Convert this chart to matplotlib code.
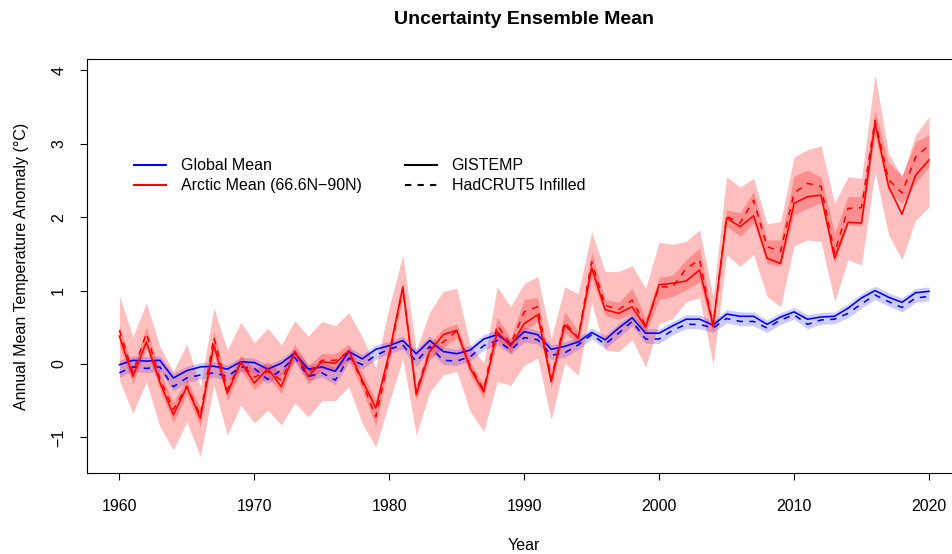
import numpy as np
import matplotlib
matplotlib.use('Agg')
import matplotlib.pyplot as plt
from matplotlib.lines import Line2D

plt.rcParams['font.family'] = ['Liberation Sans', 'DejaVu Sans']

years = np.arange(1960, 2021)

# Arctic mean (66.6N-90N)
arctic_gis = [0.38, -0.17, 0.30, -0.25, -0.69, -0.31, -0.74, 0.26, -0.40, 0.03,
              -0.26, -0.06, -0.31, 0.17, -0.17, 0.03, 0.01, 0.18, -0.22, -0.60,
              0.15, 1.05, -0.42, 0.17, 0.40, 0.46, -0.06, -0.38, 0.44, 0.24,
              0.55, 0.67, -0.24, 0.53, 0.35, 1.31, 0.74, 0.69, 0.78, 0.50,
              1.08, 1.10, 1.13, 1.28, 0.53, 1.99, 1.87, 2.02, 1.44, 1.37,
              2.19, 2.28, 2.30, 1.44, 1.93, 1.92, 3.28, 2.42, 2.04, 2.57,
              2.78]
arctic_had = [0.46, -0.12, 0.42, -0.20, -0.62, -0.30, -0.70, 0.36, -0.35, 0.02,
              -0.18, -0.10, -0.22, 0.16, -0.12, 0.05, 0.05, 0.17, -0.25, -0.72,
              0.10, 1.02, -0.38, 0.20, 0.30, 0.45, -0.03, -0.35, 0.53, 0.27,
              0.71, 0.78, -0.20, 0.57, 0.36, 1.39, 0.80, 0.74, 0.87, 0.52,
              1.05, 1.05, 1.30, 1.42, 0.51, 2.01, 1.92, 2.23, 1.60, 1.53,
              2.33, 2.46, 2.42, 1.51, 2.12, 2.13, 3.32, 2.51, 2.33, 2.82,
              2.98]
arctic_outer_hi = [0.93, 0.37, 0.83, 0.24, -0.10, 0.27, -0.31, 0.76, 0.19, 0.57,
                   0.29, 0.49, 0.26, 0.59, 0.38, 0.58, 0.52, 0.70, 0.37, -0.05,
                   0.78, 1.48, 0.19, 0.71, 0.99, 1.03, 0.26, 0.01, 1.05, 0.78,
                   1.10, 1.19, 0.35, 1.05, 0.96, 1.80, 1.26, 1.26, 1.34, 1.03,
                   1.66, 1.63, 1.67, 1.83, 0.92, 2.55, 2.41, 2.53, 1.91, 1.94,
                   2.82, 2.92, 2.97, 2.19, 2.55, 2.53, 3.94, 2.87, 2.55, 3.12,
                   3.37]
arctic_outer_lo = [-0.22, -0.67, -0.24, -0.85, -1.17, -0.79, -1.26, -0.29, -0.97, -0.56,
                   -0.80, -0.63, -0.83, -0.53, -0.72, -0.50, -0.50, -0.31, -0.81, -1.13,
                   -0.52, 0.08, -0.97, -0.38, -0.15, -0.10, -0.65, -0.92, -0.24, -0.29,
                   -0.02, 0.08, -0.76, 0.01, -0.15, 0.83, 0.19, 0.17, 0.33, -0.04,
                   0.55, 0.62, 0.85, 0.90, -0.01, 1.49, 1.33, 1.49, 0.92, 0.78,
                   1.61, 1.69, 1.67, 0.85, 1.42, 1.35, 2.62, 1.76, 1.42, 1.96,
                   2.14]
arctic_inner_hi = [0.52, -0.05, 0.50, -0.10, -0.52, -0.20, -0.60, 0.45, -0.25, 0.12,
                   -0.08, 0.03, -0.12, 0.27, -0.02, 0.14, 0.14, 0.27, -0.12, -0.49,
                   0.24, 1.12, -0.30, 0.28, 0.48, 0.55, 0.03, -0.28, 0.64, 0.35,
                   0.88, 0.90, -0.12, 0.71, 0.45, 1.53, 0.88, 0.84, 1.03, 0.63,
                   1.18, 1.21, 1.42, 1.58, 0.62, 2.10, 2.06, 2.35, 1.69, 1.69,
                   2.56, 2.64, 2.55, 1.78, 2.28, 2.28, 3.46, 2.74, 2.57, 3.03,
                   3.12]
arctic_inner_lo = [0.25, -0.27, 0.22, -0.35, -0.80, -0.42, -0.85, 0.15, -0.50, -0.08,
                   -0.35, -0.18, -0.40, 0.06, -0.27, -0.07, -0.10, 0.06, -0.35, -0.85,
                   0.03, 0.94, -0.50, 0.06, 0.22, 0.36, -0.15, -0.47, 0.33, 0.15,
                   0.45, 0.58, -0.33, 0.43, 0.27, 1.17, 0.66, 0.61, 0.69, 0.42,
                   0.88, 0.92, 1.01, 1.12, 0.44, 1.88, 1.74, 1.92, 1.37, 1.33,
                   2.03, 2.12, 2.20, 1.37, 1.90, 1.88, 3.12, 2.35, 2.19, 2.46,
                   2.69]

# Global mean
global_gis = [-0.01, 0.05, 0.04, 0.05, -0.19, -0.09, -0.04, -0.03, -0.07, 0.03,
              0.02, -0.07, 0.01, 0.15, -0.07, -0.04, -0.10, 0.17, 0.07, 0.20,
              0.25, 0.32, 0.14, 0.32, 0.17, 0.14, 0.19, 0.34, 0.40, 0.27,
              0.44, 0.40, 0.20, 0.24, 0.30, 0.43, 0.33, 0.49, 0.63, 0.42,
              0.42, 0.52, 0.61, 0.61, 0.53, 0.68, 0.65, 0.65, 0.54, 0.64,
              0.71, 0.61, 0.64, 0.65, 0.76, 0.90, 1.00, 0.91, 0.84, 0.97,
              0.99]
global_had = [-0.12, -0.04, -0.06, -0.04, -0.31, -0.19, -0.15, -0.12, -0.17, -0.04,
              -0.06, -0.21, -0.08, 0.09, -0.17, -0.12, -0.22, 0.08, -0.01, 0.12,
              0.20, 0.26, 0.03, 0.24, 0.05, 0.04, 0.10, 0.25, 0.32, 0.19,
              0.36, 0.33, 0.12, 0.15, 0.26, 0.40, 0.27, 0.42, 0.58, 0.34,
              0.34, 0.46, 0.54, 0.54, 0.49, 0.62, 0.58, 0.58, 0.49, 0.60,
              0.67, 0.54, 0.60, 0.61, 0.69, 0.82, 0.94, 0.85, 0.77, 0.90,
              0.92]
global_hi = [0.05, 0.11, 0.10, 0.11, -0.13, -0.03, 0.02, 0.03, -0.01, 0.09,
             0.08, -0.01, 0.07, 0.21, -0.01, 0.02, -0.04, 0.23, 0.13, 0.26,
             0.31, 0.38, 0.20, 0.38, 0.23, 0.20, 0.25, 0.40, 0.46, 0.33,
             0.50, 0.46, 0.26, 0.30, 0.36, 0.49, 0.39, 0.55, 0.69, 0.48,
             0.48, 0.58, 0.67, 0.67, 0.59, 0.74, 0.71, 0.71, 0.60, 0.70,
             0.77, 0.67, 0.70, 0.71, 0.82, 0.96, 1.06, 0.97, 0.90, 1.03,
             1.05]
global_lo = [-0.18, -0.10, -0.12, -0.10, -0.37, -0.25, -0.21, -0.18, -0.23, -0.10,
             -0.12, -0.27, -0.14, 0.03, -0.23, -0.18, -0.28, 0.02, -0.07, 0.06,
             0.14, 0.20, -0.03, 0.18, -0.01, -0.02, 0.04, 0.19, 0.26, 0.13,
             0.30, 0.27, 0.06, 0.09, 0.20, 0.34, 0.21, 0.36, 0.52, 0.28,
             0.28, 0.40, 0.48, 0.48, 0.43, 0.56, 0.52, 0.52, 0.43, 0.54,
             0.61, 0.48, 0.54, 0.55, 0.63, 0.76, 0.88, 0.79, 0.71, 0.84,
             0.86]

W, H = 953, 554
fig = plt.figure(figsize=(W / 100, H / 100), dpi=100)
ax = fig.add_axes([87 / W, 1 - 473 / H, (961.4 - 87) / W, (473 - 59) / H])

lw = 1.15
dash = (0, (4, 4))

ax.fill_between(years, global_lo, global_hi, color=(0, 0, 1, 0.2), lw=0)
ax.plot(years, global_gis, color='blue', lw=lw)
ax.plot(years, global_had, color='blue', lw=lw, ls=dash)

ax.fill_between(years, arctic_outer_lo, arctic_outer_hi, color=(1, 0, 0, 0.25), lw=0)
ax.fill_between(years, arctic_inner_lo, arctic_inner_hi, color=(1, 0, 0, 0.25), lw=0)
ax.plot(years, arctic_gis, color='red', lw=lw)
ax.plot(years, arctic_had, color='red', lw=lw, ls=dash)

ax.set_xlim(1957.6, 2022.4)
ax.set_ylim(-1.485, 4.155)
ax.set_xticks([1960, 1970, 1980, 1990, 2000, 2010, 2020])
ax.set_yticks([-1, 0, 1, 2, 3, 4])
ax.tick_params(direction='out', length=5, width=0.8, labelsize=11.5)
ax.tick_params(axis='x', pad=14)
ax.tick_params(axis='y', labelrotation=90, pad=10)
for lab in ax.get_yticklabels():
    lab.set_va('center')
for s in ax.spines.values():
    s.set_linewidth(0.8)

ax.set_title('Uncertainty Ensemble Mean', fontsize=14, fontweight='bold', pad=25)
ax.set_xlabel('Year', fontsize=11.5, labelpad=17)
ax.set_ylabel('Annual Mean Temperature Anomaly (\u00b0C)', fontsize=11.5, labelpad=16)

h1 = [Line2D([], [], color='blue', lw=1.5), Line2D([], [], color='red', lw=1.5)]
leg1 = ax.legend(h1, ['Global Mean', 'Arctic Mean (66.6N\u221290N)'], loc='upper left',
                 bbox_to_anchor=((128 - 87) / (961.4 - 87), (473 - 152) / (473 - 59)),
                 frameon=False, fontsize=11.5, handlelength=2.0, handletextpad=0.9,
                 labelspacing=0.3, borderaxespad=0)
ax.add_artist(leg1)
h2 = [Line2D([], [], color='black', lw=1.5), Line2D([], [], color='black', lw=1.5, ls=(0, (3, 3)))]
ax.legend(h2, ['GISTEMP', 'HadCRUT5 Infilled'], loc='upper left',
          bbox_to_anchor=((399 - 87) / (961.4 - 87), (473 - 152) / (473 - 59)),
          frameon=False, fontsize=11.5, handlelength=2.0, handletextpad=0.9,
          labelspacing=0.3, borderaxespad=0)

fig.savefig('out.png', dpi=100)
